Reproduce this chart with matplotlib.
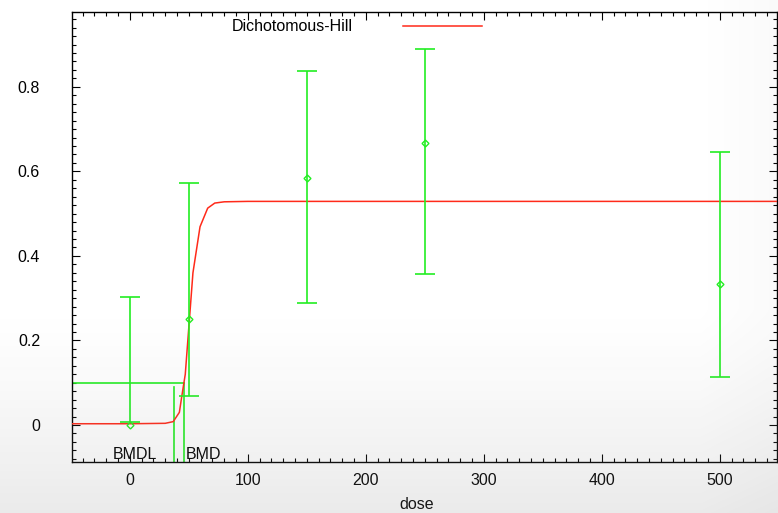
import matplotlib
matplotlib.use("Agg")
import matplotlib.pyplot as plt
import numpy as np
from matplotlib.ticker import MultipleLocator

plt.rcParams['font.family'] = ['Liberation Sans', 'DejaVu Sans']

# observed data
dose = [0, 50, 150, 250, 500]
resp = [0.0, 0.25, 0.585, 0.667, 0.334]
ci_low = [0.007, 0.069, 0.289, 0.357, 0.114]
ci_high = [0.303, 0.572, 0.838, 0.890, 0.646]

# fitted Dichotomous-Hill curve
fit_dose = [-50, 0, 30, 36.8, 42, 44, 47, 53.5, 59.5, 66, 72, 80, 100, 550]
fit_resp = [0.003, 0.003, 0.004, 0.008, 0.03, 0.067, 0.12, 0.36, 0.469, 0.513, 0.525, 0.528, 0.529, 0.529]

bmr = 0.1
bmd = 46.0
bmdl = 37.4
bmdl_top = 0.09

green = '#22ee22'
red = '#ff2a1a'
fs = 11.5

fig = plt.figure(figsize=(7.78, 5.13), dpi=100)
ax = fig.add_axes([72/778, 1-462/513, 705/778, 450/513])

ax.plot(fit_dose, fit_resp, color=red, lw=1.1, zorder=3)

# error bars drawn by hand (lower bound at dose 0 sits above the point)
ax.vlines(dose, ci_low, ci_high, color=green, lw=1.2, zorder=4)
ax.plot(dose, ci_low, ls='none', marker='_', ms=14, mew=1.2, color=green, zorder=4)
ax.plot(dose, ci_high, ls='none', marker='_', ms=14, mew=1.2, color=green, zorder=4)
ax.plot(dose, resp, ls='none', marker='D', ms=3.5, mfc='none', mec=green, mew=1.0, zorder=5)

ax.set_xlim(-49, 548.5)
ax.set_ylim(-0.0875, 0.977)

ax.plot([-50, bmd], [bmr, bmr], color=green, lw=1.2)
ax.plot([bmd, bmd], [-0.0875, bmr], color=green, lw=1.2)
ax.plot([bmdl, bmdl], [-0.0875, bmdl_top], color=green, lw=1.2)

ax.text(bmdl - 33, -0.069, 'BMDL', ha='center', va='center', fontsize=fs)
ax.text(bmd + 1, -0.069, 'BMD', ha='left', va='center', fontsize=fs)

# legend drawn gnuplot-style
ax.text(0.398, 0.968, 'Dichotomous-Hill', transform=ax.transAxes, ha='right', va='center', fontsize=fs)
ax.plot([0.469, 0.582], [0.968, 0.968], transform=ax.transAxes, color=red, lw=1.1)

ax.xaxis.set_major_locator(MultipleLocator(100))
ax.xaxis.set_minor_locator(MultipleLocator(10))
ax.yaxis.set_major_locator(MultipleLocator(0.2))
ax.yaxis.set_minor_locator(MultipleLocator(0.02))
ax.set_yticks([0, 0.2, 0.4, 0.6, 0.8])
ax.set_yticklabels(['0', '0.2', '0.4', '0.6', '0.8'])
ax.tick_params(which='both', direction='in', top=True, right=True, labelsize=fs, width=0.8)
ax.tick_params(which='major', length=6)
ax.tick_params(which='minor', length=3)
ax.tick_params(axis='x', pad=8)
ax.tick_params(axis='y', pad=23)
ax.set_xlabel('dose', fontsize=fs)
ax.xaxis.set_label_coords(0.489, -0.077)
for s in ax.spines.values():
    s.set_linewidth(1.0)

# grey shading toward the bottom/right like the original screenshot
h, w = 513, 778
yy, xx = np.mgrid[0:h, 0:w]
a = np.clip((yy / h - 0.6) / 0.4, 0, 1) ** 1.3 * 0.18 + np.clip((xx / w - 0.9) / 0.1, 0, 1) * 0.04
overlay = np.zeros((h, w, 4))
overlay[..., :3] = 0.55
overlay[..., 3] = a
oax = fig.add_axes([0, 0, 1, 1], zorder=10)
oax.imshow(overlay, aspect='auto')
oax.axis('off')

fig.savefig('out.png', dpi=100)
